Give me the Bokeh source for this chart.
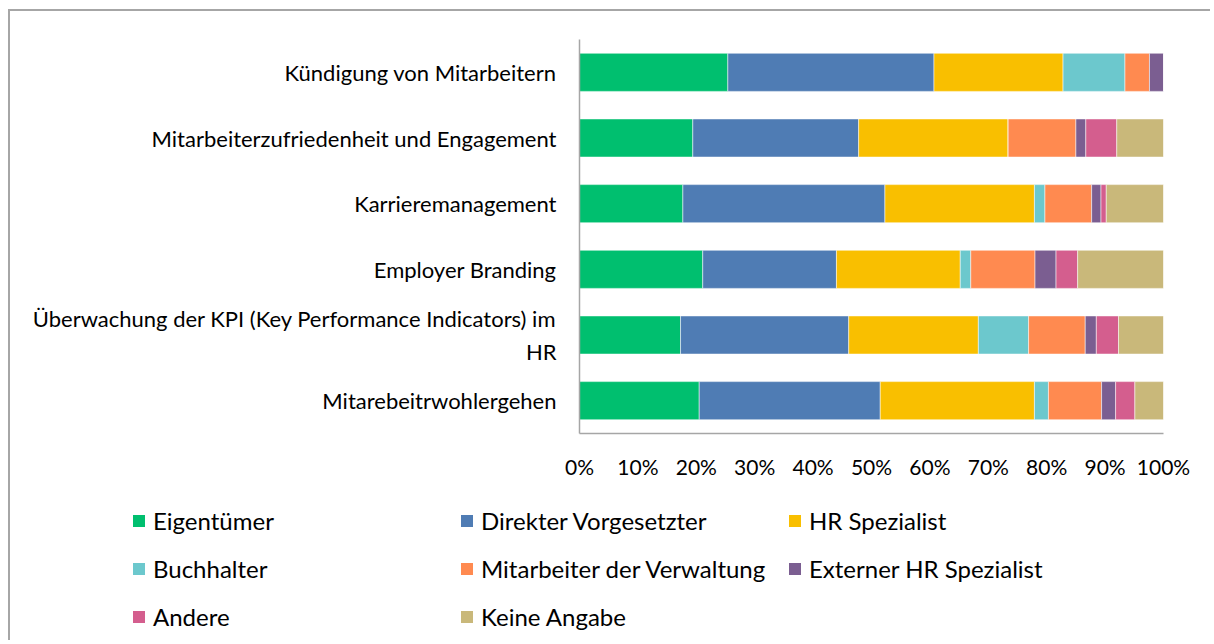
from bokeh.plotting import figure
from bokeh.layouts import column
from bokeh.models import FactorRange, Range1d, FixedTicker, PrintfTickFormatter, Legend, LegendItem
from bokeh.embed import file_html
from bokeh.resources import INLINE

categories = [
    "Kündigung von Mitarbeitern",
    "Mitarbeiterzufriedenheit und Engagement",
    "Karrieremanagement",
    "Employer Branding",
    "Überwachung der KPI (Key Performance Indicators) im\nHR",
    "Mitarebeitrwohlergehen",
]
series = [
    "Eigentümer", "Direkter Vorgesetzter", "HR Spezialist", "Buchhalter",
    "Mitarbeiter der Verwaltung", "Externer HR Spezialist", "Andere", "Keine Angabe",
]
eigentuemer = [25.4, 19.4, 17.7, 21.1, 17.3, 20.5]
direkter = [35.3, 28.4, 34.6, 22.9, 28.8, 31.0]
hr_spezialist = [22.1, 25.6, 25.6, 21.2, 22.2, 26.4]
buchhalter = [10.6, 0.0, 1.8, 1.8, 8.6, 2.4]
verwaltung = [4.2, 11.6, 8.0, 11.0, 9.7, 9.1]
extern = [2.4, 1.7, 1.6, 3.6, 1.9, 2.4]
andere = [0.0, 5.3, 0.9, 3.7, 3.8, 3.3]
keine = [0.0, 8.0, 9.8, 14.7, 7.7, 4.9]
tick_values = [0, 10, 20, 30, 40, 50, 60, 70, 80, 90, 100]
colors = ["#00BF6F", "#4F7CB4", "#F9BF00", "#6CC8CD", "#FF8A50", "#7B5E91", "#D45E8E", "#C9B87A"]

keys = ["s%d" % i for i in range(len(series))]
data = {"cat": categories}
for k, vals in zip(keys, [eigentuemer, direkter, hr_spezialist, buchhalter, verwaltung, extern, andere, keine]):
    data[k] = vals

FONT = "Lato"

p = figure(
    y_range=FactorRange(*list(reversed(categories))),
    x_range=Range1d(0, 100),
    width=1200, height=479,
    output_backend="svg", toolbar_location=None,
    min_border_left=569, min_border_top=28, min_border_right=47, min_border_bottom=57,
)
p.frame_align = False
p.hbar_stack(keys, y="cat", height=0.58, color=colors, source=data,
             line_color="white", line_alpha=0.5, line_width=1)

p.xaxis.ticker = FixedTicker(ticks=tick_values)
p.xaxis.formatter = PrintfTickFormatter(format="%d%%")
for ax in (p.xaxis[0], p.yaxis[0]):
    ax.axis_line_color = "#a6a6a6"
    ax.axis_line_width = 1.5
    ax.major_tick_line_color = None
    ax.minor_tick_line_color = None
    ax.major_tick_out = 0
    ax.major_tick_in = 0
    ax.major_label_text_font = FONT
    ax.major_label_text_color = "#000000"
p.xaxis.major_label_text_font_size = "21px"
p.yaxis.major_label_text_font_size = "22px"
p.xaxis.major_label_standoff = 20
p.yaxis.major_label_standoff = 23
p.xgrid.grid_line_color = None
p.ygrid.grid_line_color = None
p.outline_line_color = None

# legend-only figure below the chart
p2 = figure(width=1200, height=150, x_range=Range1d(0, 1), y_range=Range1d(0, 1),
            x_axis_type=None, y_axis_type=None, output_backend="svg", toolbar_location=None,
            min_border=0)
p2.frame_align = False
p2.outline_line_color = None
p2.xgrid.grid_line_color = None
p2.ygrid.grid_line_color = None
# zero-size proxy bars, only used to give the legend its colour squares
leg_renderers = [p2.hbar(y=[-1], left=[0], right=[0], height=0, fill_color=c, line_alpha=0)
                 for c in colors]
items = [LegendItem(label=s, renderers=[r]) for s, r in zip(series, leg_renderers)]
legend = Legend(items=items, ncols=3, orientation="horizontal", location=(121, 4),
                label_text_font=FONT, label_text_font_size="24px", label_text_color="#000000",
                glyph_width=15, glyph_height=15, label_standoff=7, label_width=297,
                label_height=39, spacing=9, padding=0, margin=0,
                border_line_color=None, background_fill_alpha=0)
p2.add_layout(legend, "center")

layout = column(p, p2, spacing=0, styles={
    "margin-left": "8px", "margin-top": "9px",
    "border-left": "2px solid #a6a6a6", "border-top": "2px solid #a6a6a6",
})

open("out.html", "w").write(file_html(layout, INLINE))
